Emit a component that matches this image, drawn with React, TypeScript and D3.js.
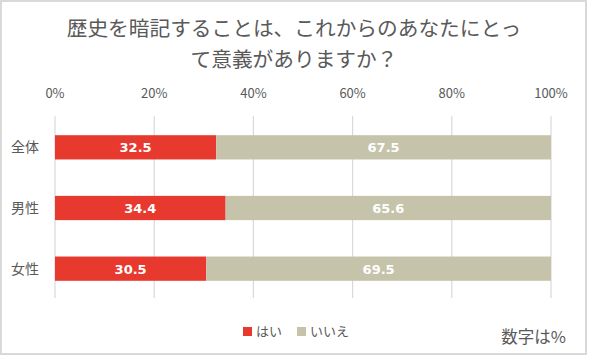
import React from "react";
import * as d3 from "d3";

const categories = ["全体", "男性", "女性"];
const yesValues = [32.5, 34.4, 30.5];
const noValues = [67.5, 65.6, 69.5];
const tickValues = [0, 20, 40, 60, 80, 100];
const seriesNames = ["はい", "いいえ"];
const titleLines = ["歴史を暗記することは、これからのあなたにとっ", "て意義がありますか？"];

const W = 589, H = 356;
const FONT = "'Noto Sans CJK JP', 'Noto Sans', sans-serif";
const RED = "#E8392F";
const GREY = "#C6C3AB";
const TEXT = "#595959";

export default function App() {
  const x = d3.scaleLinear().domain([0, 100]).range([55, 551]);
  const y = d3.scaleBand().domain(categories).range([117, 299]).paddingInner(0.6).paddingOuter(0.3);
  const bw = y.bandwidth();
  return (
    <svg width={W} height={H} style={{ position: "absolute", left: 0, top: 0 }}>
      <rect x={1} y={1} width={585} height={353} fill="#fff" stroke="#d9d9d9" strokeWidth={2} />
      {titleLines.map((t, i) => (
        <text key={i} x={294} y={36 + i * 31} textAnchor="middle" fontFamily={FONT} fontSize={20.7} fill={TEXT}>{t}</text>
      ))}
      {tickValues.map((v) => (
        <g key={v}>
          <line x1={x(v)} x2={x(v)} y1={116} y2={298} stroke="#d9d9d9" strokeWidth={1.2} />
          <text x={x(v)} y={98} textAnchor="middle" fontFamily={FONT} fontSize={13} fill={TEXT}>{v}%</text>
        </g>
      ))}
      {categories.map((c, i) => {
        const yy = y(c)!;
        const cy = yy + bw / 2;
        return (
          <g key={c}>
            <text x={25} y={cy + 5} textAnchor="middle" fontFamily={FONT} fontSize={14} fill={TEXT}>{c}</text>
            <rect x={x(0)} y={yy} width={x(yesValues[i]) - x(0)} height={bw} fill={RED} />
            <rect x={x(yesValues[i])} y={yy} width={x(yesValues[i] + noValues[i]) - x(yesValues[i])} height={bw} fill={GREY} />
            <text x={(x(0) + x(yesValues[i])) / 2} y={cy + 5} textAnchor="middle" fontFamily="'DejaVu Sans', sans-serif" fontWeight="bold" fontSize={13} fill="#fff">{yesValues[i].toFixed(1)}</text>
            <text x={(x(yesValues[i]) + x(100)) / 2} y={cy + 5} textAnchor="middle" fontFamily="'DejaVu Sans', sans-serif" fontWeight="bold" fontSize={13} fill="#fff">{noValues[i].toFixed(1)}</text>
          </g>
        );
      })}
      <rect x={243} y={327} width={9} height={9} fill={RED} />
      <text x={256} y={336} fontFamily={FONT} fontSize={13} fill={TEXT}>{seriesNames[0]}</text>
      <rect x={297} y={327} width={9} height={9} fill={GREY} />
      <text x={310} y={336} fontFamily={FONT} fontSize={13} fill={TEXT}>{seriesNames[1]}</text>
      <text x={566} y={343} textAnchor="end" fontFamily={FONT} fontSize={16.5} fill={TEXT}>数字は%</text>
    </svg>
  );
}
